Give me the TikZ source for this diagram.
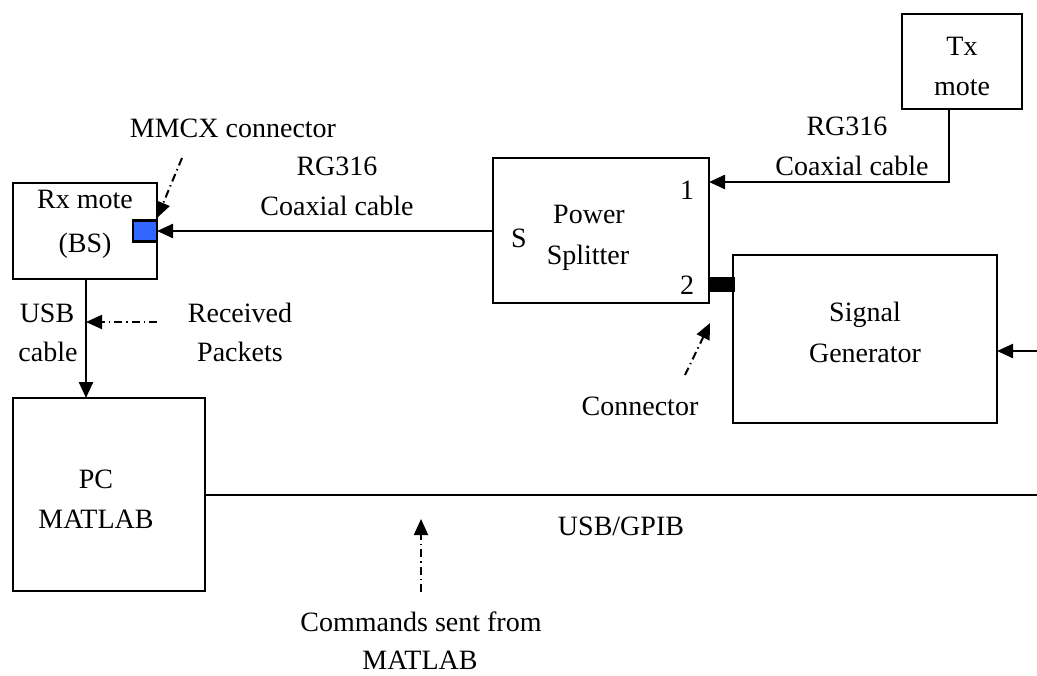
\documentclass[tikz,border=0pt]{standalone}
\usepackage{fontspec}
\setmainfont{Liberation Serif}
\usetikzlibrary{arrows.meta}
\begin{document}
\begin{tikzpicture}[x=0.5pt,y=-0.5pt,
  box/.style={draw,line width=1.2pt,inner sep=0pt,outer sep=0pt},
  lbl/.style={inner sep=0pt,anchor=base,font=\fontsize{14}{17}\selectfont},
  wire/.style={line width=1.2pt},
  feed/.style={line width=1.2pt,-{Triangle[length=8pt,width=7pt]}},
  note/.style={line width=1pt,dash pattern=on 4pt off 2pt on 0.7pt off 2pt,-{Triangle[length=8pt,width=7pt]}}]
\useasboundingbox (0,0) rectangle (1037,675);
% equipment boxes
\node[box,minimum width=72pt,minimum height=48pt] (rx) at (85,231) {};
\node[box,minimum width=108pt,minimum height=72.5pt] (ps) at (601,230.5) {};
\node[box,minimum width=132pt,minimum height=84pt] (sg) at (865,339) {};
\node[box,minimum width=60pt,minimum height=47.5pt] (tx) at (962,61.5) {};
\node[box,minimum width=96pt,minimum height=96.5pt] (pc) at (109,494.5) {};
% connectors
\node[box,fill=blue!75!cyan!80!white,minimum width=12pt,minimum height=10.5pt,anchor=east] (mmcx) at (rx.east |- 0,231) {};
\node[box,fill=black,minimum width=12.5pt,minimum height=6.5pt,anchor=west] (conn) at (ps.east |- 0,284.5) {};
% box texts (base line positions)
\node[lbl] (rxa) at (85,208) {Rx mote};
\node[lbl] (rxb) at (85,252) {(BS)};
\node[lbl] (psa) at (589,223) {Power};
\node[lbl] (psb) at (588,264) {Splitter};
\node[lbl] (pss) at (519,247) {S};
\node[lbl] (ps1) at (687,199) {1};
\node[lbl] (ps2) at (687,294) {2};
\node[lbl] (sga) at (865,321) {Signal};
\node[lbl] (sgb) at (865,362) {Generator};
\node[lbl] (txa) at (962,55) {Tx};
\node[lbl] (txb) at (962,95) {mote};
\node[lbl] (pca) at (96,488) {PC};
\node[lbl] (pcb) at (96,528) {MATLAB};
% cable labels
\node[lbl] (c1a) at (337,175) {RG316};
\node[lbl] (c1b) at (337,215) {Coaxial cable};
\node[lbl] (c2a) at (847,135) {RG316};
\node[lbl] (c2b) at (852,175) {Coaxial cable};
\node[lbl] (usba) at (47,322) {USB};
\node[lbl] (usbb) at (48,361) {cable};
\node[lbl] (gpib) at (621,535) {USB/GPIB};
% annotations
\node[lbl] (mmlbl) at (233,137) {MMCX connector};
\node[lbl] (rcva) at (240,322) {Received};
\node[lbl] (rcvb) at (240,361) {Packets};
\node[lbl] (cnlbl) at (640,415) {Connector};
\node[lbl] (cmda) at (421,631) {Commands sent from};
\node[lbl] (cmdb) at (420,669) {MATLAB};
% free ends and bends
\coordinate (usbtop) at (86,279);
\coordinate (txbend) at (tx.south |- 0,182);
\coordinate (rightin) at (1037,351);
\coordinate (rightbus) at (1037,495);
\coordinate (mmtail) at (182,158);
\coordinate (mmhead) at (157,218);
\coordinate (rcvtail) at (157,322);
\coordinate (rcvhead) at (86,322);
\coordinate (cntail) at (685,375);
\coordinate (cnhead) at (710,323);
\coordinate (cmdtail) at (421,592);
\coordinate (cmdhead) at (421,519);
% cables
\draw[feed] (ps.west |- mmcx.east) -- (mmcx.east);
\draw[feed] ([xshift=-6.5pt]tx.south) |- (ps.east |- txbend);
\draw[feed] (rightin) -- (sg.east |- rightin);
\draw[feed] (usbtop) -- (usbtop |- pc.north);
\draw[wire] (pc.east |- rightbus) -- (rightbus);
% pointers
\draw[note] (mmtail) -- (mmhead);
\draw[note] (rcvtail) -- (rcvhead);
\draw[note] (cntail) -- (cnhead);
\draw[note] (cmdtail) -- (cmdhead);
\end{tikzpicture}
\end{document}
